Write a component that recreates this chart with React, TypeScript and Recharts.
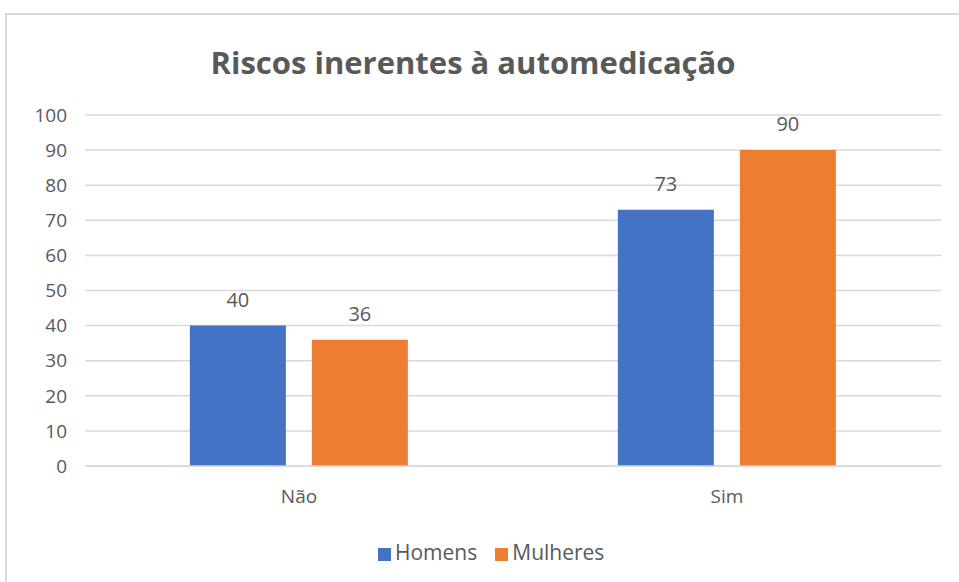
import { BarChart, Bar, XAxis, YAxis, CartesianGrid, Legend, LabelList } from 'recharts'

const categories = ['Não', 'Sim']
const homens = [40, 73]
const mulheres = [36, 90]
const yTicks = [0, 10, 20, 30, 40, 50, 60, 70, 80, 90, 100]

const data = categories.map((name, i) => ({ name, Homens: homens[i], Mulheres: mulheres[i] }))

const TEXT = '#595959'
const FONT = '"Open Sans", sans-serif'

export default function App() {
  return (
    <div
      style={{
        position: 'absolute',
        left: 5,
        top: 13,
        width: 980,
        height: 600,
        border: '2px solid #d9d9d9',
        background: '#fff',
        fontFamily: FONT,
      }}
    >
      <div
        style={{
          position: 'absolute',
          left: 0,
          width: 932,
          top: 26,
          textAlign: 'center',
          fontSize: 31,
          fontWeight: 700,
          color: TEXT,
        }}
      >
        Riscos inerentes à automedicação
      </div>
      <BarChart
        width={954}
        height={569}
        data={data}
        margin={{ top: 100, right: 20, bottom: 60, left: 0 }}
        barCategoryGap="24.5%"
        barGap={26}
      >
        <CartesianGrid vertical={false} stroke="#d9d9d9" strokeWidth={1.5} />
        <XAxis
          dataKey="name"
          axisLine={{ stroke: '#d9d9d9', strokeWidth: 1.5 }}
          tickLine={false}
          tickMargin={18}
          tick={{ fill: TEXT, fontSize: 19, fontFamily: FONT }}
        />
        <YAxis
          width={78}
          domain={[0, 100]}
          ticks={yTicks}
          axisLine={false}
          tickLine={false}
          tickMargin={12}
          tick={{ fill: TEXT, fontSize: 19, fontFamily: FONT }}
        />
        <Legend
          iconType="square"
          iconSize={13}
          wrapperStyle={{ left: 371, top: 523, width: 'auto', fontSize: 21, fontFamily: FONT }}
          formatter={(v: string) => <span style={{ color: TEXT, marginRight: 8 }}>{v}</span>}
        />
        <Bar dataKey="Homens" fill="#4472C4" isAnimationActive={false}>
          <LabelList dataKey="Homens" position="top" offset={19} fill={TEXT} fontSize={20} fontFamily={FONT} />
        </Bar>
        <Bar dataKey="Mulheres" fill="#ED7D31" isAnimationActive={false}>
          <LabelList dataKey="Mulheres" position="top" offset={19} fill={TEXT} fontSize={20} fontFamily={FONT} />
        </Bar>
      </BarChart>
    </div>
  )
}
